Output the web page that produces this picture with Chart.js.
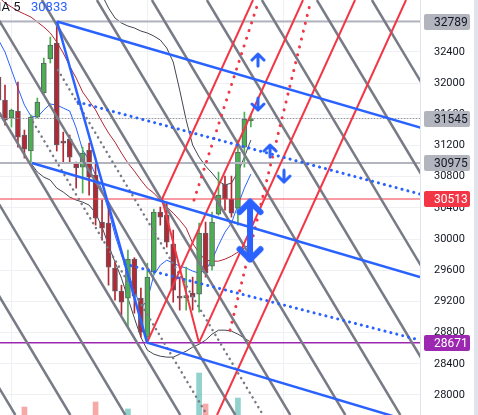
<!DOCTYPE html>
<html lang="en">
<head>
<meta charset="UTF-8">
<title>Price chart</title>
<script src="https://cdn.jsdelivr.net/npm/chart.js"></script>
<style>
  html, body { margin: 0; padding: 0; background: #e0e3eb; }
  .wrap { position: relative; width: 474px; height: 415px; background: #fff; overflow: hidden; }
  .legend { position: absolute; top: -1px; font: 13px Roboto, sans-serif; line-height: 16px; white-space: nowrap; }
  #maName { left: -10px; color: #131722; }
  #maValue { left: 31px; color: #2962ff; }
</style>
</head>
<body>
<div class="wrap">
  <canvas id="chart" width="474" height="415"></canvas>
  <div class="legend" id="maName">MA 5</div>
  <div class="legend" id="maValue"></div>
</div>
<script>
// candles, first one is cut by the left edge (bar -1)
const firstBar = -1;
const opens  = [32077, 31782, 31551, 31641, 31333, 31128, 31564, 31872, 32308, 32513, 31243, 31282, 30974, 30922, 31141, 30820, 30217, 30204, 29627, 29332, 29242, 29742, 29242, 28741, 29575, 30345, 30306, 29934, 29267, 29248, 29306, 29293, 30076, 29652, 30319, 30704, 30512, 30396, 31179, 31513];
const highs  = [32167, 31974, 31667, 32013, 31397, 31590, 31808, 32321, 32590, 32789, 31371, 31333, 30987, 31179, 31230, 30974, 30499, 30473, 29704, 29408, 29857, 29760, 29370, 29691, 30383, 30409, 30473, 30114, 29511, 29639, 29511, 30204, 30217, 30345, 30858, 30807, 30807, 31269, 31628, 31602];
const lows   = [31718, 31461, 31436, 31179, 31038, 30974, 31551, 31846, 32257, 31128, 30974, 30974, 30653, 30589, 30563, 30178, 29986, 29408, 29216, 29024, 28870, 29049, 28741, 28671, 29550, 30178, 29896, 29190, 29088, 29088, 29088, 29062, 29511, 29601, 30306, 30371, 30281, 30178, 30922, 31436];
const closes = [31782, 31525, 31654, 31307, 31153, 31564, 31756, 32257, 32488, 31205, 31230, 31051, 30910, 31102, 30794, 30268, 30140, 29639, 29332, 29190, 29742, 29267, 28805, 29511, 30345, 30281, 29960, 29344, 29242, 29254, 29254, 30076, 29562, 30217, 30563, 30512, 30332, 31115, 31538, 31545];
const volumes = [150, 120, 140, 160, 280, 170, 110, 150, 130, 190, 120, 110, 100, 130, 120, 330, 140, 180, 150, 130, 260, 160, 170, 190, 180, 120, 140, 150, 100, 90, 110, 620, 310, 160, 150, 130, 120, 370, 180, 100];

// indicator lines
const ma5    = [32552, 32398, 32167, 31936, 31718, 31577, 31564, 31654, 31731, 31718, 31679, 31641, 31423, 31141, 31012, 30820, 30627, 30371, 30050, 29793, 29575, 29344, 29113, 29216, 29537, 29665, 29729, 29691, 29652, 29627, 29588, 29562, 29601, 29729, 29921, 30088, 30204, 30435, 30653, 30833];
const maSlow = [33103, 33027, 32975, 32924, 32885, 32847, 32783, 32719, 32642, 32526, 32385, 32218, 32064, 31885, 31769, 31654, 31500, 31359, 31243, 31102, 30974, 30871, 30756, 30653, 30589, 30499, 30409, 30332, 30242, 30140, 29947, 29819, 29729, 29716, 29716, 29742, 29780, 29832, 29883, 29947];
const bandUp = [null, null, null, null, null, null, null, null, null, null, null, null, null, null, null, 33322, 33129, 32962, 32834, 32770, 32731, 32706, 32667, 32642, 32603, 32552, 32449, 32270, 31910, 31525, 31205, 31051, 30935, 30845, 30743, 30692, 30717, 30858, 31051, 31269];
const bandLo = [null, null, null, null, null, 30974, 30858, 30794, 30756, 30653, 30602, 30538, 30499, 30473, 30435, 30332, 30153, 29921, 29704, 29498, 29242, 28985, 28741, 28575, 28523, 28497, 28485, 28485, 28523, 28562, 28613, 28651, 28703, 28780, 28831, 28831, 28818, 28780, 28728, 28677];

// price levels and tags on the right axis
const levelGray = [32789, 30975];
const levelRed = 30513;
const levelPurple = 28671;
const lastPrice = 31545;
const tagValues = [32789, 31545, 30975, 30513, 28671];
const tagFills  = ['#b2b5be', '#b2b5be', '#b2b5be', '#f23645', '#9c27b0'];
const tagInk    = ['#131722', '#131722', '#131722', '#ffffff', '#ffffff'];
const yTicks = [28000, 28400, 28800, 29200, 29600, 30000, 30400, 30800, 31200, 31600, 32000, 32400, 32800];

// drawings: [bar, price, bar, price]
const grayLines = [
  [-36.8, 33065, 1.6, 27743], [-28.3, 33065, 10.1, 27743], [-19.8, 33065, 18.6, 27743],
  [-11.3, 33065, 27.1, 27743], [-2.8, 33065, 35.6, 27743], [5.7, 33065, 44.1, 27743],
  [14.2, 33065, 52.6, 27743], [22.7, 33065, 61.1, 27743], [31.2, 33065, 69.6, 27743],
  [39.7, 33065, 78.1, 27743], [48.2, 33065, 86.6, 27743], [56.7, 33065, 95.1, 27743]
];
const grayDotted = [[8.19, 32167, 39.88, 27743], [4.33, 31500, 31.22, 27743]];
const redLines = [
  [21.95, 28671, 46.06, 33065], [29.98, 28671, 54.1, 33065], [32.77, 27743, 61.98, 33065],
  [24.27, 30513, 29.98, 28671], [24.27, 30513, 38.33, 33065]
];
const redDotted = [[29.21, 30499, 39.26, 33065], [34.78, 28831, 47.3, 33065]];
const blueLines = [
  [8.04, 32789, 70, 31287], [4.17, 30974, 64.14, 29511],
  [21.95, 28671, 64.14, 27625], [8.04, 32789, 21.95, 28671]
];
const blueDotted = [[11.28, 31756, 64.14, 30576], [18.55, 29678, 64.14, 28703]];
const arrowsUp   = [[39.1, 32295, 'small'], [40.96, 31128, 'small'], [37.87, 30294, 'big']];
const arrowsDown = [[39.1, 31731, 'small'], [43.12, 30807, 'small'], [37.87, 29921, 'big']];

// view
const viewFirst = -0.773, viewLast = 64.14;
const priceMin = 27743, priceMax = 33065;
const xGridAt = [1.08, 21.95, 42.97];

document.getElementById('maValue').textContent = ma5[ma5.length - 1];

const bars = opens.map((o, k) => firstBar + k);
const isUp = opens.map((o, k) => closes[k] >= o);
const GREEN = '#4caf50', RED = '#b22833';

function arrowImage(size, up) {
  const big = size === 'big';
  const w = big ? 28 : 16, h = big ? 36 : 16, lw = big ? 6 : 3;
  const c = document.createElement('canvas');
  c.width = w; c.height = h;
  const g = c.getContext('2d');
  g.strokeStyle = '#2962ff'; g.lineWidth = lw; g.lineCap = 'round'; g.lineJoin = 'round';
  const m = lw / 2 + 0.5, arm = w / 2 - m;
  g.beginPath();
  if (up) {
    g.moveTo(w / 2, m); g.lineTo(w / 2, h - m);
    g.moveTo(m, m + arm); g.lineTo(w / 2, m); g.lineTo(w - m, m + arm);
  } else {
    g.moveTo(w / 2, m); g.lineTo(w / 2, h - m);
    g.moveTo(m, h - m - arm); g.lineTo(w / 2, h - m); g.lineTo(w - m, h - m - arm);
  }
  g.stroke();
  return c;
}

function seg(a, color, width, dash, order) {
  return {
    type: 'line',
    data: [{x: a[0], y: a[1]}, {x: a[2], y: a[3]}],
    borderColor: color, borderWidth: width,
    borderDash: dash || [], borderCapStyle: dash ? 'round' : 'butt',
    pointRadius: 0, order: order
  };
}
function level(v, color, width, dash, order) {
  return seg([viewFirst - 2, v, viewLast + 2, v], color, width, dash, order);
}
function series(vals, color, order) {
  return {
    type: 'line', data: vals.map((v, k) => ({x: bars[k], y: v})),
    borderColor: color, borderWidth: 1, pointRadius: 0, spanGaps: false, order: order
  };
}
function arrows(list, up) {
  return {
    type: 'line', showLine: false, order: 0,
    data: list.map(a => ({x: a[0], y: a[1]})),
    pointStyle: list.map(a => arrowImage(a[2], up)), pointRadius: 10
  };
}

const datasets = [
  arrows(arrowsUp, true),
  arrows(arrowsDown, false),
  ...blueLines.map(a => seg(a, '#2962ff', 2.5, null, 1)),
  ...blueDotted.map(a => seg(a, '#2962ff', 3, [0.1, 6], 2)),
  ...redLines.map(a => seg(a, '#f23645', 2, null, 3)),
  ...redDotted.map(a => seg(a, '#f23645', 3, [0.1, 8], 3)),
  ...grayLines.map(a => seg(a, '#787b86', 2.5, null, 4)),
  ...grayDotted.map(a => seg(a, '#787b86', 2.5, [0.1, 5.5], 4)),
  ...levelGray.map(v => level(v, '#b2b5be', 2, null, 5)),
  level(levelRed, '#f23645', 1, null, 5),
  level(levelPurple, '#9c27b0', 1.5, null, 5),
  level(lastPrice, '#9598a1', 1, [1, 2], 5),
  {
    type: 'bar', grouped: false, order: 6,
    data: bars.map((b, k) => ({x: b, y: [opens[k], closes[k]]})),
    backgroundColor: isUp.map(u => u ? GREEN : RED),
    borderColor: '#5d606b', borderWidth: 1, borderSkipped: false,
    barThickness: 5, minBarLength: 2
  },
  {
    type: 'bar', grouped: false, order: 7,
    data: bars.map((b, k) => ({x: b, y: [lows[k], highs[k]]})),
    backgroundColor: isUp.map(u => u ? GREEN : RED),
    barThickness: 1
  },
  series(ma5, '#2962ff', 8),
  series(maSlow, '#b22833', 8),
  series(bandUp, '#434651', 8),
  series(bandLo, '#434651', 8),
  {
    type: 'bar', grouped: false, order: 9, yAxisID: 'vol',
    data: bars.map((b, k) => ({x: b, y: volumes[k]})),
    backgroundColor: isUp.map(u => u ? 'rgba(38,166,154,0.5)' : 'rgba(239,83,80,0.5)'),
    barThickness: 5
  }
];

const priceTags = {
  id: 'priceTags',
  afterDraw(chart) {
    const {ctx, scales: {y}} = chart;
    ctx.save();
    ctx.font = '12px Roboto, sans-serif';
    ctx.textBaseline = 'middle';
    tagValues.forEach((v, k) => {
      const py = Math.round(y.getPixelForValue(v));
      ctx.fillStyle = tagFills[k];
      ctx.beginPath();
      ctx.roundRect(y.left + 4, py - 8, 46, 16, 2);
      ctx.fill();
      ctx.fillStyle = tagInk[k];
      ctx.fillText(String(v), y.left + 14, py + 1);
    });
    ctx.restore();
  }
};

new Chart(document.getElementById('chart'), {
  type: 'bar',
  data: {datasets},
  options: {
    responsive: false,
    animation: false,
    layout: {padding: 0, autoPadding: false},
    plugins: {legend: {display: false}, tooltip: {enabled: false}},
    scales: {
      x: {
        type: 'linear', min: viewFirst, max: viewLast, offset: false,
        grid: {color: '#eef0f4', drawTicks: false, offset: false},
        border: {display: false},
        ticks: {display: false},
        afterBuildTicks: s => { s.ticks = xGridAt.map(v => ({value: v})); },
        afterFit: s => { s.height = 0; }
      },
      y: {
        position: 'right', min: priceMin, max: priceMax,
        grid: {color: '#eef0f4', drawTicks: true, tickLength: 14, tickColor: 'rgba(0,0,0,0)'},
        border: {color: '#e0e3eb'},
        ticks: {
          padding: 0, color: '#131722', font: {family: 'Roboto', size: 11, lineHeight: 0},
          callback: v => String(v)
        },
        afterBuildTicks: s => { s.ticks = yTicks.map(v => ({value: v})); },
        afterFit: s => { s.width = 54; }
      },
      vol: {display: false, min: 200, max: 4350}
    }
  },
  plugins: [priceTags]
});
</script>
</body>
</html>
